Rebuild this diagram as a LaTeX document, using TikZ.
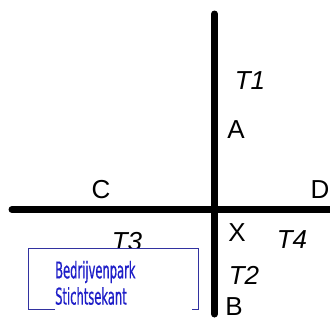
\documentclass[tikz,border=0pt]{standalone}
\usepackage{fontspec}
\setmainfont{Liberation Sans}
\newfontfamily\condfont[FakeStretch=0.5,FakeBold=0.6]{DejaVu Sans}
\definecolor{boxblue}{RGB}{50,50,160}
\definecolor{txtblue}{RGB}{30,30,200}
\begin{document}
\begin{tikzpicture}[x=1pt,y=-1pt,
  road/.style={line width=7pt,line cap=round},
  lbl/.style={inner sep=0pt,font=\fontsize{26}{30}\selectfont},
  tlbl/.style={lbl,font=\fontsize{26}{30}\selectfont\itshape},
  frame/.style={draw=boxblue,line width=0.7pt},
  parktext/.style={inner sep=0pt,anchor=west,text=txtblue,font=\condfont\fontsize{23}{27}\selectfont}]
\useasboundingbox[fill=white] (0,0) rectangle (330,322);
\coordinate (top) at (214.5,14);
\coordinate (bot) at (214.5,314);
\coordinate (left) at (12,209.5);
\coordinate (right) at (336,209.5);
\draw[road] (top) -- (bot);
\draw[road] (left) -- (right);
\node[tlbl] (t1) at (250,81) {T1};
\node[lbl] (a) at (236,130) {A};
\node[lbl] (c) at (101,190) {C};
\node[lbl] (d) at (320,190) {D};
\node[tlbl] (t3) at (127,242) {T3};
\node[lbl] (x) at (237,233) {X};
\node[tlbl] (t4) at (292,240) {T4};
\node[tlbl] (t2) at (244,275) {T2};
\node[lbl] (b) at (234,307) {B};
\coordinate (bl) at (28,309);
\coordinate (tl) at (28,248);
\coordinate (tr) at (198,248);
\coordinate (br) at (198,309);
\coordinate (g1) at (55,309);
\coordinate (g2) at (192,309);
\fill[white] (tl) rectangle (br);
\draw[frame] (g1) -- (bl) -- (tl) -- (tr) -- (br) -- (g2);
\node[parktext] (p1) at (55,272) {Bedrijvenpark};
\node[parktext] (p2) at (55,296) {Stichtsekant};
\end{tikzpicture}
\end{document}
